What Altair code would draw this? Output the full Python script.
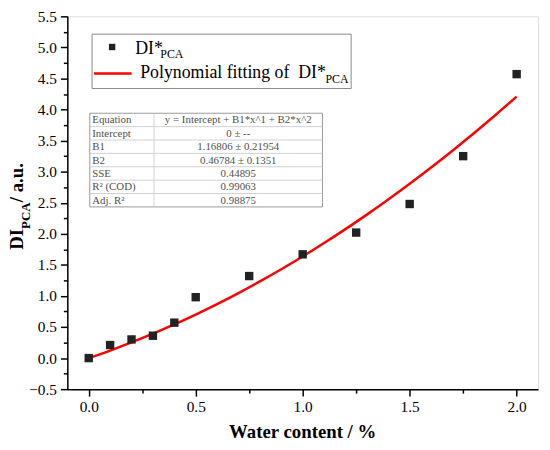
import altair as alt
import pandas as pd

# ---- data ----
water = [0.0, 0.1, 0.2, 0.3, 0.4, 0.5, 0.75, 1.0, 1.25, 1.5, 1.75, 2.0]
di_pca = [0.0, 0.21, 0.30, 0.36, 0.57, 0.98, 1.32, 1.67, 2.02, 2.48, 3.25, 4.57]

fit_x = [0.0, 0.1, 0.2, 0.3, 0.4, 0.5, 0.6, 0.7, 0.8, 0.9, 1.0,
         1.1, 1.2, 1.3, 1.4, 1.5, 1.6, 1.7, 1.8, 1.9, 2.0]
fit_y = [0.0, 0.1215, 0.2523, 0.3925, 0.5421, 0.7010, 0.8693, 1.0469, 1.2339, 1.4302, 1.6359,
         1.8510, 2.0754, 2.3091, 2.5523, 2.8047, 3.0666, 3.3378, 3.6183, 3.9082, 4.2075]

table_labels = ["Equation", "Intercept", "B1", "B2", "SSE", "R\u00b2 (COD)", "Adj. R\u00b2"]
table_values = ["y = Intercept + B1*x^1 + B2*x^2", "0 \u00b1 --", "1.16806 \u00b1 0.21954",
                "0.46784 \u00b1 0.1351", "0.44895", "0.99063", "0.98875"]

legend_labels = ["DI*", "Polynomial fitting of\u00a0 DI*"]
subscript = "PCA"
x_title = "Water content / %"
y_title_main = "DI"
y_title_rest = " / a.u."

x_ticks = [0.0, 0.25, 0.5, 0.75, 1.0, 1.25, 1.5, 1.75, 2.0]
y_ticks = [-0.5, -0.25, 0.0, 0.25, 0.5, 0.75, 1.0, 1.25, 1.5, 1.75, 2.0, 2.25, 2.5, 2.75,
           3.0, 3.25, 3.5, 3.75, 4.0, 4.25, 4.5, 4.75, 5.0, 5.25, 5.5]

pts = pd.DataFrame({"x": water, "y": di_pca})
fit = pd.DataFrame({"x": fit_x, "y": fit_y})

# page -> plot-area pixel helpers (plot area top-left sits at page (68, 14))
OX, OY = 68, 14


def px(v):
    return v - OX


def py(v):
    return v - OY


serif = "Liberation Serif"
major = "abs(datum.value*2 - round(datum.value*2)) < 0.001"
label_expr = f"{major} ? format(datum.value, '.1f') : ''"


def make_axis(values):
    return alt.Axis(
        values=values, title=None, grid=False,
        labelExpr=label_expr, labelOverlap=False, labelFlush=False,
        labelFont=serif, labelFontSize=15.5, labelColor="black",
        labelPadding=4,
        domainColor="black", domainWidth=1.5,
        tickColor="black", tickWidth=1.5,
        tickSize={"condition": {"test": major, "value": 7}, "value": 4},
    )


xs = alt.Scale(domain=[-0.1, 2.1], nice=False, zero=False)
ys = alt.Scale(domain=[-0.5, 5.5], nice=False, zero=False)
xenc = alt.X("x:Q", scale=xs, axis=make_axis(x_ticks))
yenc = alt.Y("y:Q", scale=ys, axis=make_axis(y_ticks))

curve = alt.Chart(fit).mark_line(color="#ff0000", strokeWidth=2.5, interpolate="monotone").encode(
    x=xenc, y=yenc)
points = alt.Chart(pts).mark_point(shape="square", filled=True, size=72, color="#222222", opacity=1).encode(
    x=xenc, y=yenc)

one = alt.Data(values=[{}])
layers = []

# ---- legend ----
layers.append(alt.Chart(one).mark_rect(fill="white", stroke="#8a8a8a", strokeWidth=1).encode(
    x=alt.value(px(93)), x2=alt.value(px(355)), y=alt.value(py(32)), y2=alt.value(py(87))))
layers.append(alt.Chart(one).mark_point(shape="square", filled=True, size=42, color="#222222", opacity=1).encode(
    x=alt.value(px(113.3)), y=alt.value(py(45))))
layers.append(alt.Chart(one).mark_rule(color="#ff0000", strokeWidth=2.5).encode(
    x=alt.value(px(95)), x2=alt.value(px(133)), y=alt.value(py(71.7))))
layers.append(alt.Chart(one).mark_text(font=serif, fontSize=18, align="left", baseline="alphabetic", color="black").encode(
    x=alt.value(px(136.7)), y=alt.value(py(51.7)), text=alt.value(legend_labels[0])))
layers.append(alt.Chart(one).mark_text(font=serif, fontSize=12, align="left", baseline="alphabetic", color="black").encode(
    x=alt.value(px(162)), y=alt.value(py(56)), text=alt.value(subscript)))
layers.append(alt.Chart(one).mark_text(font=serif, fontSize=18, align="left", baseline="alphabetic", color="black").encode(
    x=alt.value(px(141.7)), y=alt.value(py(76.7)), text=alt.value(legend_labels[1])))
layers.append(alt.Chart(one).mark_text(font=serif, fontSize=12, align="left", baseline="alphabetic", color="black").encode(
    x=alt.value(px(329)), y=alt.value(py(81)), text=alt.value(subscript)))

# ---- fit table ----
tx0, tx1, txd, ty0, ty1 = px(90.7), px(326), px(155.7), py(112), py(206.7)
rh = (ty1 - ty0) / len(table_labels)
layers.append(alt.Chart(one).mark_rect(fill="white", stroke="#9a9a9a", strokeWidth=1).encode(
    x=alt.value(tx0), x2=alt.value(tx1), y=alt.value(ty0), y2=alt.value(ty1)))
for i in range(1, len(table_labels)):
    layers.append(alt.Chart(one).mark_rule(color="#d0d0d0", strokeWidth=1).encode(
        x=alt.value(tx0), x2=alt.value(tx1), y=alt.value(ty0 + i * rh)))
layers.append(alt.Chart(one).mark_rule(color="#d0d0d0", strokeWidth=1).encode(
    x=alt.value(txd), y=alt.value(ty0), y2=alt.value(ty1)))
layers.append(alt.Chart(one).mark_text(font=serif, fontSize=11, align="left", baseline="middle",
                                       lineBreak="\n", lineHeight=rh, color="#505050").encode(
    x=alt.value(tx0 + 2.5), y=alt.value(ty0 + rh / 2 + 0.5), text=alt.value("\n".join(table_labels))))
layers.append(alt.Chart(one).mark_text(font=serif, fontSize=11, align="center", baseline="middle",
                                       lineBreak="\n", lineHeight=rh, color="#505050").encode(
    x=alt.value((txd + tx1) / 2), y=alt.value(ty0 + rh / 2 + 0.5), text=alt.value("\n".join(table_values))))

# ---- axis titles ----
layers.append(alt.Chart(one).mark_text(font=serif, fontSize=19, fontWeight="bold", align="center",
                                       baseline="alphabetic", color="black").encode(
    x=alt.value(px(306)), y=alt.value(py(440)), text=alt.value(x_title)))
layers.append(alt.Chart(one).mark_text(font=serif, fontSize=19, fontWeight="bold", align="left",
                                       baseline="alphabetic", angle=270, color="black").encode(
    x=alt.value(px(23.5)), y=alt.value(py(250)), text=alt.value(y_title_main)))
layers.append(alt.Chart(one).mark_text(font=serif, fontSize=13, fontWeight="bold", align="left",
                                       baseline="alphabetic", angle=270, color="black").encode(
    x=alt.value(px(30.5)), y=alt.value(py(229)), text=alt.value(subscript)))
layers.append(alt.Chart(one).mark_text(font=serif, fontSize=19, fontWeight="bold", align="left",
                                       baseline="alphabetic", angle=270, color="black").encode(
    x=alt.value(px(23.5)), y=alt.value(py(202)), text=alt.value(y_title_rest)))

chart = alt.layer(curve, points, *layers).properties(
    width=476, height=377,
    autosize=alt.AutoSizeParams(type="none"),
    padding={"left": 60, "top": 6, "right": 4, "bottom": 51},
).configure_view(stroke=None).configure_axis(
    labelFont=serif, labelFontSize=15.5, labelColor="black"
).configure(background="white")

chart.save("out.html", embed_options={"renderer": "svg", "actions": False})
